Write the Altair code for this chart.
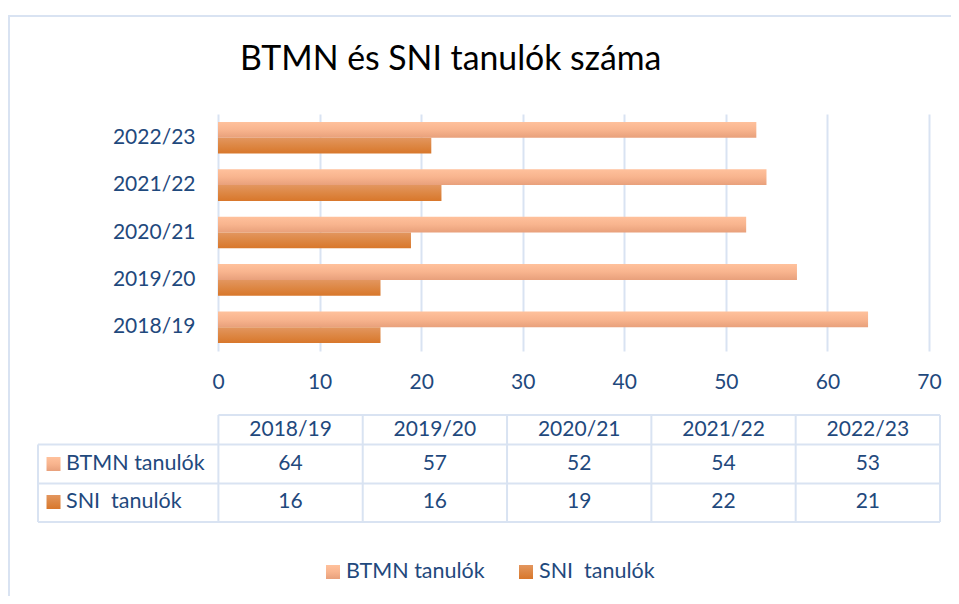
import altair as alt
import pandas as pd

# ---------------- data ----------------
years = ["2018/19", "2019/20", "2020/21", "2021/22", "2022/23"]
series = ["BTMN tanulók", "SNI  tanulók"]
btmn = [64, 57, 52, 54, 53]
sni = [16, 16, 19, 22, 21]
chart_title = "BTMN és SNI tanulók száma"
x_ticks = [0, 10, 20, 30, 40, 50, 60, 70]

# ---------------- style ----------------
FONT = "Lato"
TXT = "#1F497D"
GRID = "#D9E3F2"


def shown(s):
    # keep the double space visible in SVG
    return s.replace("  ", "\u00a0 ")


def grad(stops):
    return {
        "gradient": "linear", "x1": 0, "x2": 0, "y1": 0, "y2": 1,
        "stops": [{"offset": o, "color": c} for o, c in stops],
    }


G_BTMN = grad([(0, "#FFC19C"), (0.5, "#F8B48E"), (1, "#E8A07B")])
G_SNI = grad([(0, "#E3965F"), (0.5, "#DD8744"), (1, "#D8772B")])
GRADS = [G_BTMN, G_SNI]

# ---------------- bars ----------------
df = pd.DataFrame({
    "year": years * 2,
    "series": [series[0]] * len(years) + [series[1]] * len(years),
    "value": btmn + sni,
})

yenc = alt.Y(
    "year:N",
    scale=alt.Scale(domain=years[::-1], paddingInner=0.333, paddingOuter=0.1667),
    axis=alt.Axis(domain=False, ticks=False, grid=False, labelFont=FONT,
                  labelFontSize=21, labelColor=TXT, labelPadding=23, title=None),
)
yoff = alt.YOffset("series:N", scale=alt.Scale(domain=series, paddingInner=0, paddingOuter=0))
xenc = alt.X(
    "value:Q",
    scale=alt.Scale(domain=[0, 70], nice=False, zero=True),
    axis=alt.Axis(values=x_ticks, grid=True, gridColor=GRID, gridWidth=2,
                  domain=False, ticks=False, labelFont=FONT, labelFontSize=21,
                  labelColor=TXT, labelPadding=20, labelFlush=False, title=None),
)

bar_layers = []
for s, g in zip(series, GRADS):
    bar_layers.append(
        alt.Chart(df).transform_filter(alt.datum.series == s)
        .mark_bar(color=g, cornerRadius=0)
        .encode(x=xenc, y=yenc, yOffset=yoff)
    )
bars = alt.layer(*bar_layers)

# ---------------- data table ----------------
tx = alt.Scale(domain=[-1.25, 5], range=[-180, 722], nice=False, zero=False)
ty = alt.Scale(domain=[0, 107], range=[301, 408], nice=False, zero=False)

hl = pd.DataFrame({
    "x": [0, -1.25, -1.25, -1.25],
    "x2": [5, 5, 5, 5],
    "y": [0, 29.5, 68.5, 107],
})
vl = pd.DataFrame({
    "x": [-1.25, 0, 1, 2, 3, 4, 5],
    "y": [29.5, 0, 0, 0, 0, 0, 0],
    "y2": [107] * 7,
})
h_rules = alt.Chart(hl).mark_rule(color=GRID, strokeWidth=2).encode(
    x=alt.X("x:Q", scale=tx, axis=None), x2="x2:Q",
    y=alt.Y("y:Q", scale=ty, axis=None))
v_rules = alt.Chart(vl).mark_rule(color=GRID, strokeWidth=2).encode(
    x=alt.X("x:Q", scale=tx, axis=None),
    y=alt.Y("y:Q", scale=ty, axis=None), y2="y2:Q")

hdr = pd.DataFrame({"cx": [i + 0.5 for i in range(len(years))], "cy": [15] * len(years), "t": years})
header = alt.Chart(hdr).mark_text(font=FONT, fontSize=21, color=TXT, baseline="middle", align="center").encode(
    x=alt.X("cx:Q", scale=tx, axis=None), y=alt.Y("cy:Q", scale=ty, axis=None), text="t:N")

vals = pd.DataFrame({
    "cx": [i + 0.5 for i in range(len(years))] * 2,
    "cy": [49] * len(years) + [87] * len(years),
    "v": btmn + sni,
})
values = alt.Chart(vals).mark_text(font=FONT, fontSize=21, color=TXT, baseline="middle", align="center").encode(
    x=alt.X("cx:Q", scale=tx, axis=None), y=alt.Y("cy:Q", scale=ty, axis=None), text="v:Q")

row_layers = []
for s, g, cy in zip(series, GRADS, [49, 87]):
    d = pd.DataFrame({"t": [shown(s)], "lx": [-1.056], "sx": [-1.1425], "cy": [cy]})
    row_layers.append(alt.Chart(d).mark_square(size=196, color=g, filled=True, opacity=1).encode(
        x=alt.X("sx:Q", scale=tx, axis=None), y=alt.Y("cy:Q", scale=ty, axis=None)))
    row_layers.append(alt.Chart(d).mark_text(font=FONT, fontSize=21.5, color=TXT, baseline="middle", align="left").encode(
        x=alt.X("lx:Q", scale=tx, axis=None), y=alt.Y("cy:Q", scale=ty, axis=None), text="t:N"))

table = alt.layer(h_rules, v_rules, header, values, *row_layers)

# ---------------- legend ----------------
legend_layers = []
for s, g, sx in zip(series, GRADS, [115, 308]):
    d = pd.DataFrame({"t": [shown(s)]})
    legend_layers.append(alt.Chart(d).mark_square(size=196, color=g, filled=True, opacity=1).encode(
        x=alt.value(sx), y=alt.value(458)))
    legend_layers.append(alt.Chart(d).mark_text(font=FONT, fontSize=21.5, color=TXT, baseline="middle", align="left").encode(
        x=alt.value(sx + 13), y=alt.value(458), text="t:N"))

# ---------------- title & border ----------------
title_layer = alt.Chart(pd.DataFrame({"t": [chart_title]})).mark_text(
    font=FONT, fontSize=33.8, color="#000000", align="left", baseline="alphabetic"
).encode(x=alt.value(22), y=alt.value(-44), text="t:N")

border_d = pd.DataFrame({"a": [0]})
border_top = alt.Chart(border_d).mark_rule(color=GRID, strokeWidth=2).encode(
    x=alt.value(-210), x2=alt.value(733), y=alt.value(-98))
border_left = alt.Chart(border_d).mark_rule(color=GRID, strokeWidth=2).encode(
    x=alt.value(-209), y=alt.value(-99), y2=alt.value(482))

chart = alt.layer(border_top, border_left, bars, table, *legend_layers, title_layer).resolve_scale(
    x="independent", y="independent"
).properties(
    width=711, height=237, autosize="none",
    padding={"left": 210, "top": 106, "right": 22, "bottom": 245},
).configure_view(stroke=None)

chart.save("out.html", embed_options={"renderer": "svg", "actions": False})
